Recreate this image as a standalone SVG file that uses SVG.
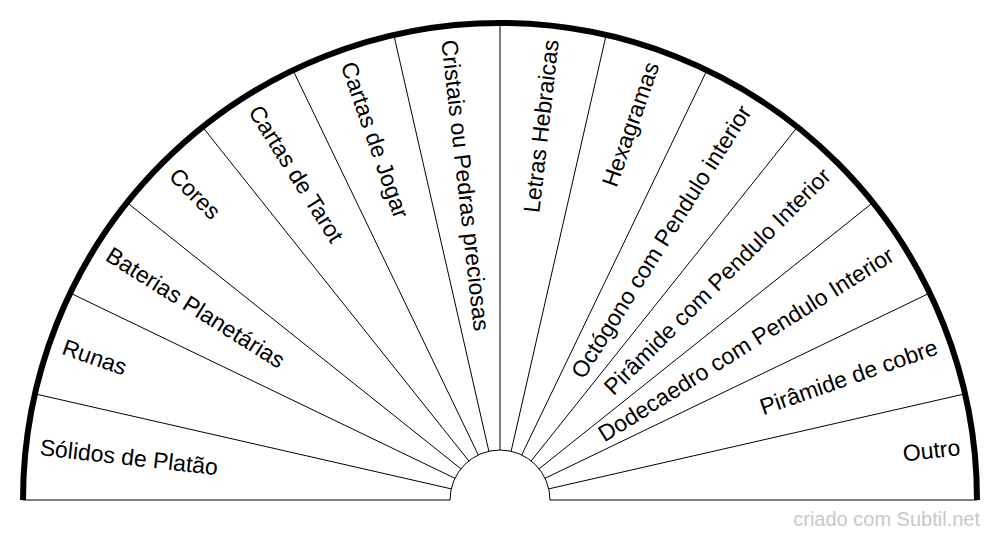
<svg xmlns="http://www.w3.org/2000/svg" width="1000" height="540" viewBox="0 0 1000 540">
<style>
.ln{stroke:#000;stroke-width:1;fill:none}
.rim{stroke:#000;stroke-width:6;fill:none}
.lb{font-family:"Liberation Sans",Arial,sans-serif;font-size:23px;fill:#000}
.l{text-anchor:start}
.r{text-anchor:end}
.wm{font-family:"Liberation Sans",Arial,sans-serif;font-size:20px;fill:#c8c8c8;text-anchor:end}
</style>
<rect width="1000" height="540" fill="#fff"/>
<g id="connectors">
<path class="ln" d="M23 500H450M550 500H977"/>
<path class="ln" d="M450 500A50 50 0 0 1 550 500"/>
<path class="ln" d="M451.254 488.874L34.959 393.857M454.952 478.306L70.238 293.037M460.908 468.825L127.067 202.595M468.825 460.908L202.595 127.067M478.306 454.952L293.037 70.238M488.874 451.254L393.857 34.959M500 450L500 23M511.126 451.254L606.143 34.959M521.694 454.952L706.963 70.238M531.175 460.908L797.405 127.067M539.092 468.825L872.933 202.595M545.048 478.306L929.762 293.037M548.746 488.874L965.041 393.857"/>
<path class="rim" d="M23 500A477 477 0 0 1 977 500"/>
</g>
<g id="n0"><text class="lb l" x="37" y="507" transform="rotate(6.4286 500 500)">Sólidos de Platão</text></g>
<g id="n1"><text class="lb l" x="37" y="507" transform="rotate(19.2857 500 500)">Runas</text></g>
<g id="n2"><text class="lb l" x="37" y="507" transform="rotate(32.1429 500 500)">Baterias Planetárias</text></g>
<g id="n3"><text class="lb l" x="37" y="507" transform="rotate(45 500 500)">Cores</text></g>
<g id="n4"><text class="lb l" x="37" y="507" transform="rotate(57.8571 500 500)">Cartas de Tarot</text></g>
<g id="n5"><text class="lb l" x="37" y="507" transform="rotate(70.7143 500 500)">Cartas de Jogar</text></g>
<g id="n6"><text class="lb l" x="37" y="507" transform="rotate(83.5714 500 500)">Cristais ou Pedras preciosas</text></g>
<g id="n7"><text class="lb r" x="963" y="507" transform="rotate(-83.5714 500 500)">Letras Hebraicas</text></g>
<g id="n8"><text class="lb r" x="963" y="507" transform="rotate(-70.7143 500 500)">Hexagramas</text></g>
<g id="n9"><text class="lb r" x="963" y="507" transform="rotate(-57.8571 500 500)">Octógono com Pendulo interior</text></g>
<g id="n10"><text class="lb r" x="963" y="507" transform="rotate(-45 500 500)">Pirâmide com Pendulo Interior</text></g>
<g id="n11"><text class="lb r" x="963" y="507" transform="rotate(-32.1429 500 500)">Dodecaedro com Pendulo Interior</text></g>
<g id="n12"><text class="lb r" x="963" y="507" transform="rotate(-19.2857 500 500)">Pirâmide de cobre</text></g>
<g id="n13"><text class="lb r" x="963" y="507" transform="rotate(-6.4286 500 500)">Outro</text></g>
<text class="wm" x="980" y="526">criado com Subtil.net</text>
</svg>
